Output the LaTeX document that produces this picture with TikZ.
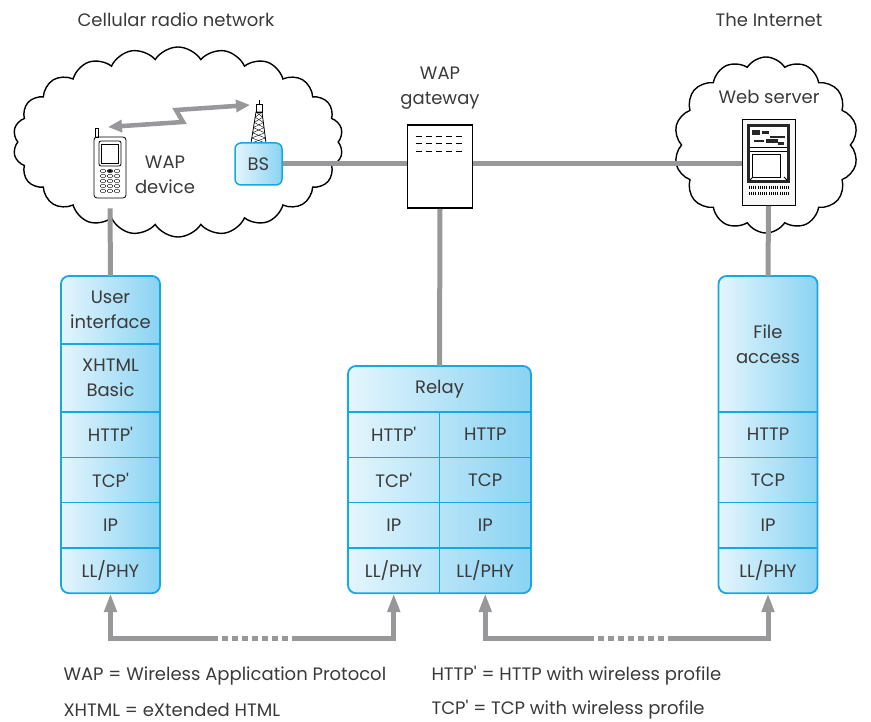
\documentclass[tikz,border=0pt]{standalone}
\usepackage{fontspec}
\setmainfont{Poppins}[Ligatures=TeXOff]
\usetikzlibrary{positioning, shapes.symbols, arrows.meta, fit, backgrounds, calc}
\definecolor{linkgray}{RGB}{152,152,155}
\definecolor{stackedge}{RGB}{22,168,226}
\definecolor{stackleft}{RGB}{228,245,253}
\definecolor{stackright}{RGB}{138,211,242}
\definecolor{txt}{RGB}{58,58,58}

\tikzset{
  every node/.style={text=txt, font=\fontsize{18}{25.5}\selectfont},
  layer/.style={minimum width=99pt, minimum height=45.3pt, inner sep=0pt, outer sep=0pt, align=center},
  halflayer/.style={layer, minimum width=91.5pt},
  stackbg/.style={draw=stackedge, line width=1.8pt, rounded corners=8pt, left color=stackleft, right color=stackright, inner sep=0pt},
  divider/.style={stackedge, line width=1.5pt},
  net/.style={cloud, draw, fill=white, line width=1.4pt, cloud ignores aspect},
  link/.style={linkgray, line width=5pt},
  tip/.style={arrows={-Triangle[width=12pt,length=19pt]}},
  wave/.style={linkgray, line width=4.5pt, arrows={Triangle[width=12pt,length=14pt]-Triangle[width=12pt,length=14pt]}},
  dots/.style={linkgray, line width=5pt, dash pattern=on 6pt off 4pt}
}

\begin{document}
\begin{tikzpicture}[x=1pt, y=-1pt]
\useasboundingbox (0,0) rectangle (871,722);

% the two clouds
\node[net, cloud puffs=22, cloud puff arc=115, minimum width=330pt, minimum height=190pt] (radio) at (178,142) {};
\node[net, cloud puffs=14, cloud puff arc=115, minimum width=184pt, minimum height=176pt] (inet) at (766,145) {};
\node (radiolbl) at (176,20) {Cellular radio network};
\node (inetlbl) at (769,20) {The Internet};

% handset
\node[draw, thick, rounded corners=3pt, minimum width=32pt, minimum height=61pt, inner sep=0pt] (phone) at (110,167.5) {};
\draw[thick] (95,128) rectangle (98.5,137);
\draw[thick, rounded corners=2pt] (99,141) rectangle (121,166);
\draw[thick] (101.5,144) rectangle (118.5,163);
\foreach \r in {0,...,4}
  \foreach \c in {0,1,2}
    \draw (103+\c*7, 171+\r*5) ellipse [x radius=2.8pt, y radius=1.8pt];
\fill (110,171) ellipse [x radius=2pt, y radius=1.5pt];
\node[align=center] (devlbl) at (165,175) {WAP\\device};

% base station mast
\draw[thick] (251,143) -- (256,112) -- (262,112) -- (266,143);
\draw[thick] (256,112) rectangle (262,104);
\draw[thick] (259,104) -- (259,100);
\foreach \i in {0,...,5} {
  \pgfmathsetmacro{\ya}{112+\i*5.2}
  \pgfmathsetmacro{\yb}{112+(\i+1)*5.2}
  \pgfmathsetmacro{\la}{256-(\ya-112)*5/31}
  \pgfmathsetmacro{\lb}{256-(\yb-112)*5/31}
  \pgfmathsetmacro{\ra}{262+(\ya-112)*4/31}
  \pgfmathsetmacro{\rb}{262+(\yb-112)*4/31}
  \draw (\la,\ya) -- (\rb,\yb);
  \draw (\ra,\ya) -- (\lb,\yb);
}
\node[draw=stackedge, line width=1.5pt, rounded corners=6pt, left color=stackleft, right color=stackright, minimum width=47pt, minimum height=42pt, inner sep=0pt] (bs) at (258.5,164) {BS};

% radio link
\coordinate (handtip) at (108,127);
\coordinate (zig) at (183,122);
\coordinate (zag) at (176,110);
\coordinate (masttip) at (250,105);
\draw[wave] (handtip) -- (zig) -- (zag) -- (masttip);

% gateway
\node[align=center] (gwlbl) at (440,88) {WAP\\gateway};
\node[draw, line width=1.6pt, fill=white, minimum width=65pt, minimum height=83pt, inner sep=0pt] (gw) at (440,166.5) {};
\foreach \r in {0,1,2}
  \foreach \c in {0,...,4}
    \draw ($(gw.north west)+(9+\c*10, 12+\r*7.5)$) -- ++(6.5,0);

% web server
\node (srvlbl) at (769,97) {Web server};
\node[draw, thick, fill=gray!6, minimum width=53pt, minimum height=86pt, inner sep=0pt] (server) at (768.5,162.5) {};
\fill[black!85] (747,124) rectangle (790,183);
\fill[white] (750,127) rectangle (787,180);
\fill[black!85] (752,130) rectangle (760,135);
\fill[black!85] (762,131) rectangle (769,134);
\fill[black!85] (770,136) rectangle (785,138);
\fill[black!85] (754,140) rectangle (764,142);
\fill[black!85] (766,139) rectangle (778,143);
\fill[black!85] (778,142) rectangle (784,145);
\draw[thick] (750,147) -- (787,147);
\draw[thick] (750,151) -- (787,151);
\draw (752,154) rectangle (780,177);
\draw[thick] (750,180) -- (753,177) (787,180) -- (784,177);
\foreach \k in {0,...,18} {
  \draw (749+\k*2.2,186) -- ++(0,3.5);
  \draw (749+\k*2.2,192) -- ++(0,3.5);
}

% device stack
\node[layer, minimum height=68pt] (ui) at (110.5,310) {User\\interface};
\node[layer, minimum height=68pt, below=0pt of ui] (xh) {XHTML\\Basic};
\node[layer, below=0pt of xh] (h1) {HTTP'};
\node[layer, below=0pt of h1] (t1) {TCP'};
\node[layer, below=0pt of t1] (ip1) {IP};
\node[layer, below=0pt of ip1] (ll1) {LL/PHY};

% gateway stack
\node[layer, minimum width=183pt, minimum height=46pt] (relay) at (439.5,389) {Relay};
\node[halflayer, below right=0pt and 0pt of relay.south west] (h2a) {HTTP'};
\node[halflayer, right=0pt of h2a] (h2b) {HTTP};
\node[halflayer, below=0pt of h2a] (t2a) {TCP'};
\node[halflayer, right=0pt of t2a] (t2b) {TCP};
\node[halflayer, below=0pt of t2a] (ip2a) {IP};
\node[halflayer, right=0pt of ip2a] (ip2b) {IP};
\node[halflayer, below=0pt of ip2a] (ll2a) {LL/PHY};
\node[halflayer, right=0pt of ll2a] (ll2b) {LL/PHY};

% server stack
\node[layer, minimum height=136pt] (fa) at (768,344) {File\\access};
\node[layer, below=0pt of fa] (h3) {HTTP};
\node[layer, below=0pt of h3] (t3) {TCP};
\node[layer, below=0pt of t3] (ip3) {IP};
\node[layer, below=0pt of ip3] (ll3) {LL/PHY};

\begin{scope}[on background layer]
\node[stackbg, fit=(ui)(ll1)] (devstack) {};
\node[stackbg, fit=(relay)(ll2b)] (gwstack) {};
\node[stackbg, fit=(fa)(ll3)] (srvstack) {};
\end{scope}
\foreach \n in {ui,xh,h1,t1,ip1,relay,h2a,h2b,t2a,t2b,ip2a,ip2b,h3,t3,ip3,fa}
  \draw[divider] (\n.south west) -- (\n.south east);
\draw[divider] (h2a.north east) -- (ll2a.south east);

% wired links
\draw[link] (bs) -- (bs -| gw.west);
\draw[link] (bs -| gw.east) -- (bs -| server.west);
\draw[link] ([yshift=-10pt]phone.south) -- (ui.north);
\draw[link] (gw.south) -- (relay.north);
\draw[link] (server.south) -- (fa.north);

% peer links between the stacks
\coordinate (p1) at (212,638);
\coordinate (p2) at (292,638);
\coordinate (p3) at (588,638);
\coordinate (p4) at (674,638);
\draw[link, tip] (p1) -| (ll1.south);
\draw[dots] (p1) -- (p2);
\draw[link, tip] (p2) -| (ll2a.south);
\draw[link, tip] (p3) -| (ll2b.south);
\draw[dots] (p3) -- (p4);
\draw[link, tip] (p4) -| (ll3.south);

% key
\node[anchor=west] (key1) at (60,676) {WAP = Wireless Application Protocol};
\node[anchor=west] (key2) at (60,710) {XHTML = eXtended HTML};
\node[anchor=west] (key3) at (428,676) {HTTP' = HTTP with wireless profile};
\node[anchor=west] (key4) at (428,710) {TCP' = TCP with wireless profile};
\end{tikzpicture}
\end{document}
